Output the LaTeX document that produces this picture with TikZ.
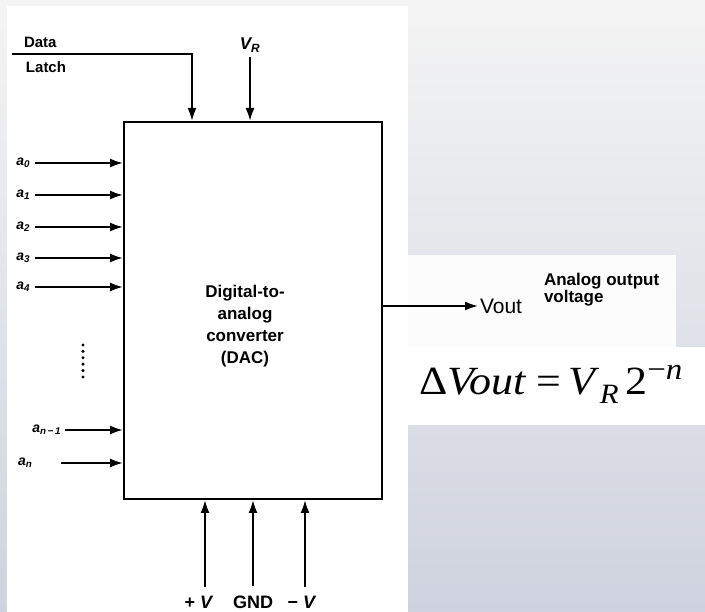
\documentclass[tikz,border=0pt]{standalone}
\usepackage{fontspec}
\setsansfont{Liberation Sans}
\newfontfamily\timesfont{Liberation Serif}
\usetikzlibrary{arrows.meta, positioning}
\definecolor{bgtop}{HTML}{F4F4F4}
\definecolor{bgbot}{HTML}{CFD3DF}
\definecolor{panel}{HTML}{FCFCFC}

\begin{document}
\begin{tikzpicture}[x=1pt, y=-1pt, line width=2pt, >={Latex[length=13pt, width=9pt]},
        lbl/.style={inner sep=0pt, font=\sffamily\bfseries\fontsize{15}{15}\selectfont},
        pin/.style={inner sep=0pt, font=\sffamily\bfseries\itshape\fontsize{14}{14}\selectfont}]
        % slide background and scanned panels
        \shade[top color=bgtop, bottom color=bgbot] (0,0) rectangle (705,612);
        \fill[white] (7,6) rectangle (408,612);
        \fill[panel] (408,255) rectangle (676,347);
        \fill[white] (405,347) rectangle (705,425);

        \node[draw, minimum width=258pt, minimum height=377pt, inner sep=0pt] (dac) at (253,310.5) {};
        \node[align=center, font=\sffamily\bfseries\fontsize{17}{22}\selectfont] (dactext) at (245,326)
            {Digital-to-\\analog\\converter\\(DAC)};

        \node[lbl, anchor=base west] (data) at (23,48) {Data};
        \node[lbl, anchor=base west] (latch) at (25,73) {Latch};
        \coordinate (dl) at (12,54);
        \node[pin, font=\sffamily\bfseries\itshape\fontsize{17}{17}\selectfont] (vr) at (250,45) {V\textsubscript{R}};

        \draw[->] (dl) -| ([xshift=-61pt]dac.north);
        \draw[->, shorten <=4pt] (vr.south) -- (vr.south |- dac.north);

        \foreach \i/\yy in {0/163, 1/195, 2/227, 3/258, 4/287} {
            \node[pin, anchor=east] (a\i) at (31,\yy) {a\textsubscript{\i}};
            \draw[->, shorten <=4pt] (a\i.east) -- (a\i.east -| dac.west);
        }
        \node[pin, anchor=east] (an1) at (62,430) {a\textsubscript{n\,\textminus\,1}};
        \node[pin, anchor=west] (an) at (17,463) {a\textsubscript{n}};
        \draw[->, shorten <=3pt] (an1.east) -- (an1.east -| dac.west);
        \draw[->, shorten <=28pt] (an.east) -- (an.east -| dac.west);
        \foreach \k in {0,...,5}
            \fill (83,345+6.4*\k) circle (1.7pt);

        \node[anchor=west, inner sep=1pt, font=\sffamily\fontsize{21}{21}\selectfont] (vout) at (478,306) {Vout};
        \draw[->] (vout.west -| dac.east) -- (vout.west);
        \node[anchor=base west, align=left, inner sep=0pt, font=\sffamily\bfseries\fontsize{17}{17}\selectfont] (note) at (543,303)
            {Analog output\\voltage};

        \node[lbl, anchor=base, font=\sffamily\bfseries\fontsize{18}{18}\selectfont] (pv) at (199,608) {+ \textit{V}};
        \node[lbl, anchor=base, font=\sffamily\bfseries\fontsize{18}{18}\selectfont] (gnd) at (253,608) {GND};
        \node[lbl, anchor=base, font=\sffamily\bfseries\fontsize{18}{18}\selectfont] (mv) at (302,608) {\textminus\ \textit{V}};
        \draw[->, shorten <=8pt] ([xshift=6pt]pv.north) -- ([xshift=6pt]pv.north |- dac.south);
        \draw[->, shorten <=8pt] (gnd.north) -- (gnd.north |- dac.south);
        \draw[->, shorten <=8pt] ([xshift=3pt]mv.north) -- ([xshift=3pt]mv.north |- dac.south);

        \node[anchor=base west, inner sep=0pt] (eq) at (418,395) {\scalebox{1.1}[1]{\timesfont\fontsize{40}{40}\selectfont
            Δ\textit{Vout}\kern9pt=\kern7pt\textit{V}\raisebox{-9pt}{\fontsize{28}{28}\selectfont\textit{R}}\kern6pt2\raisebox{15pt}{\fontsize{30}{30}\selectfont\textminus\textit{n}}}};
\end{tikzpicture}
\end{document}
